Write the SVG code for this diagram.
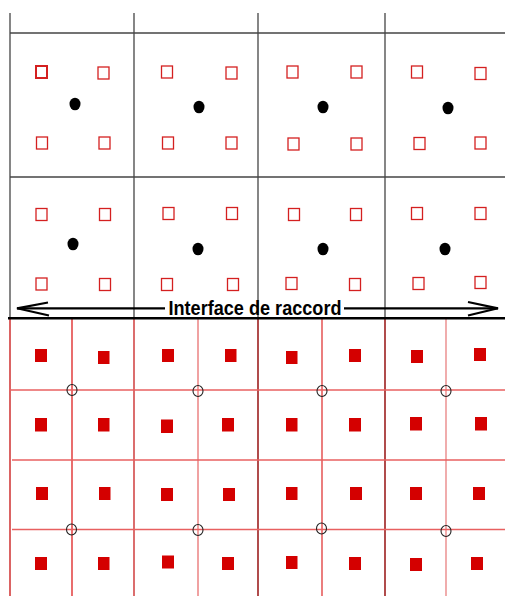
<svg xmlns="http://www.w3.org/2000/svg" width="505" height="596" viewBox="0 0 505 596">
<defs>
<style>
.g{stroke:#444;stroke-width:1.3;fill:none}
.os{fill:none;stroke:#d42020;stroke-width:1.3}
.fs{fill:#d40000;stroke:none}
.dot{fill:#000}
.rl{stroke-width:1.3;fill:none}
.circ{fill:none;stroke:#222;stroke-width:1.1}
.lbl{font-family:"Liberation Sans",Arial,sans-serif;font-weight:bold;font-size:21px;fill:#000}
.arr{stroke:#000;stroke-width:2.2;fill:none}
</style>
</defs>
<rect width="505" height="596" fill="#fff"/>
<g id="top-grid">
<line class="g" x1="10" y1="13" x2="10" y2="318"/>
<line class="g" x1="134" y1="13" x2="134" y2="318"/>
<line class="g" x1="258" y1="13" x2="258" y2="318"/>
<line class="g" x1="385" y1="13" x2="385" y2="318"/>
<line class="g" x1="10" y1="33" x2="505" y2="33"/>
<line class="g" x1="10" y1="177" x2="505" y2="177"/>
</g>
<g id="top-cells">
<g id="cell-t1">
<rect class="os" x="36" y="66" width="11" height="12" style="stroke-width:2"/><rect class="os" x="98" y="67" width="11" height="12"/>
<rect class="os" x="36.5" y="137" width="11" height="12"/><rect class="os" x="99" y="137" width="11" height="12"/>
<ellipse class="dot" cx="75" cy="104" rx="5.5" ry="6.3"/>
</g>
<g id="cell-t2">
<rect class="os" x="161.5" y="66" width="11" height="12"/><rect class="os" x="226" y="67" width="11" height="12"/>
<rect class="os" x="162.5" y="137" width="11" height="12"/><rect class="os" x="226" y="137" width="11" height="12"/>
<ellipse class="dot" cx="199" cy="107" rx="5.5" ry="6.3"/>
</g>
<g id="cell-t3">
<rect class="os" x="287" y="66" width="11" height="12"/><rect class="os" x="351" y="66" width="11" height="12"/>
<rect class="os" x="288" y="138" width="11" height="12"/><rect class="os" x="351" y="138" width="11" height="12"/>
<ellipse class="dot" cx="323" cy="107" rx="5.5" ry="6.3"/>
</g>
<g id="cell-t4">
<rect class="os" x="411.5" y="66" width="11" height="12"/><rect class="os" x="475" y="67.5" width="11" height="12"/>
<rect class="os" x="414" y="137.5" width="11" height="12"/><rect class="os" x="475" y="137" width="11" height="12"/>
<ellipse class="dot" cx="448" cy="108" rx="5.5" ry="6.3"/>
</g>
<g id="cell-t5">
<rect class="os" x="36" y="208.5" width="11" height="12"/><rect class="os" x="99.5" y="208.5" width="11" height="12"/>
<rect class="os" x="36" y="278" width="11" height="12"/><rect class="os" x="99.5" y="278.5" width="11" height="12"/>
<ellipse class="dot" cx="73" cy="244" rx="5.5" ry="6.3"/>
</g>
<g id="cell-t6">
<rect class="os" x="163" y="207.5" width="11" height="12"/><rect class="os" x="226.5" y="207.5" width="11" height="12"/>
<rect class="os" x="161.5" y="278.5" width="11" height="12"/><rect class="os" x="227.5" y="278.5" width="11" height="12"/>
<ellipse class="dot" cx="198" cy="249" rx="5.5" ry="6.3"/>
</g>
<g id="cell-t7">
<rect class="os" x="288.5" y="208.5" width="11" height="12"/><rect class="os" x="350.5" y="208.5" width="11" height="12"/>
<rect class="os" x="286" y="277.5" width="11" height="12"/><rect class="os" x="349.5" y="278.5" width="11" height="12"/>
<ellipse class="dot" cx="323" cy="249" rx="5.5" ry="6.3"/>
</g>
<g id="cell-t8">
<rect class="os" x="411.5" y="207.5" width="11" height="12"/><rect class="os" x="475" y="207.5" width="11" height="12"/>
<rect class="os" x="413" y="277.5" width="11" height="12"/><rect class="os" x="475" y="276.5" width="11" height="12"/>
<ellipse class="dot" cx="445" cy="249" rx="5.5" ry="6.3"/>
</g>
</g>
<g id="bottom-grid">
<line class="rl" x1="10" y1="318" x2="10" y2="596" stroke="#c81010"/>
<line class="rl" x1="72" y1="318" x2="72" y2="596" stroke="#dd2020"/>
<line class="rl" x1="134" y1="318" x2="134" y2="596" stroke="#c82020"/>
<line class="rl" x1="198" y1="318" x2="198" y2="596" stroke="#e87070"/>
<line class="rl" x1="258" y1="318" x2="258" y2="596" stroke="#a83838" style="stroke-width:1.8"/>
<line class="rl" x1="322" y1="318" x2="322" y2="596" stroke="#e03838"/>
<line class="rl" x1="385" y1="318" x2="385" y2="596" stroke="#a83838" style="stroke-width:1.8"/>
<line class="rl" x1="446" y1="318" x2="446" y2="596" stroke="#e88080"/>
<line class="rl" x1="9" y1="390" x2="505" y2="390" stroke="#e86060" style="stroke-width:1.6"/>
<line class="rl" x1="12" y1="460" x2="505" y2="460" stroke="#e86060" style="stroke-width:1.6"/>
<line class="rl" x1="12" y1="529.5" x2="505" y2="529.5" stroke="#e86060" style="stroke-width:1.6"/>
</g>
<g id="bottom-circles">
<ellipse class="circ" cx="72" cy="390" rx="5" ry="5.5"/>
<ellipse class="circ" cx="198" cy="391" rx="5" ry="5.5"/>
<ellipse class="circ" cx="322" cy="391" rx="5" ry="5.5"/>
<ellipse class="circ" cx="446" cy="391" rx="5" ry="5.5"/>
<ellipse class="circ" cx="71.5" cy="529.5" rx="5" ry="5.5"/>
<ellipse class="circ" cx="198" cy="530" rx="5" ry="5.5"/>
<ellipse class="circ" cx="321.5" cy="528.5" rx="5" ry="5.5"/>
<ellipse class="circ" cx="446" cy="531" rx="5" ry="5.5"/>
</g>
<g id="bottom-squares">
<rect class="fs" x="35" y="349" width="12" height="13"/><rect class="fs" x="98" y="351" width="11.5" height="13"/>
<rect class="fs" x="162" y="349" width="12" height="13"/><rect class="fs" x="225" y="349" width="11.5" height="13"/>
<rect class="fs" x="286" y="351" width="11.5" height="13"/><rect class="fs" x="349" y="349" width="12" height="13"/>
<rect class="fs" x="411" y="350" width="12" height="13"/><rect class="fs" x="474" y="348" width="12" height="13"/>
<rect class="fs" x="35" y="418" width="12" height="13.5"/><rect class="fs" x="98" y="418" width="11.5" height="13.5"/>
<rect class="fs" x="161" y="419.5" width="12" height="13.5"/><rect class="fs" x="222" y="418" width="12" height="13.5"/>
<rect class="fs" x="286" y="418" width="11.5" height="13.5"/><rect class="fs" x="349" y="418" width="12" height="13.5"/>
<rect class="fs" x="410" y="417" width="12" height="13.5"/><rect class="fs" x="475" y="417" width="12" height="13.5"/>
<rect class="fs" x="36" y="487" width="12" height="13" stroke="#400" stroke-width="0.8"/><rect class="fs" x="99" y="487" width="11.5" height="13"/>
<rect class="fs" x="161" y="488" width="12" height="13"/><rect class="fs" x="223" y="488" width="12" height="13"/>
<rect class="fs" x="286" y="487" width="11.5" height="13"/><rect class="fs" x="350" y="487" width="12" height="13"/>
<rect class="fs" x="410" y="487" width="12" height="13"/><rect class="fs" x="473" y="487" width="12" height="13"/>
<rect class="fs" x="35" y="557" width="12" height="13" stroke="#400" stroke-width="0.8"/><rect class="fs" x="98" y="557" width="11.5" height="13"/>
<rect class="fs" x="162" y="555.5" width="12" height="13"/><rect class="fs" x="222" y="557" width="12" height="13"/>
<rect class="fs" x="286" y="556" width="11.5" height="13"/><rect class="fs" x="349" y="557" width="12" height="13"/>
<rect class="fs" x="410" y="558" width="12" height="13"/><rect class="fs" x="471" y="557" width="12" height="13"/>
</g>
<g id="interface">
<line x1="8" y1="318.3" x2="505" y2="318.3" stroke="#000" stroke-width="2.5"/>
</g>
<g id="connectors">
<line class="arr" x1="17" y1="308.3" x2="165" y2="308.3"/>
<line class="arr" x1="344" y1="308.3" x2="498" y2="308.3"/>
<polyline class="arr" points="48,302.5 17,308.3 49,315.5"/>
<polyline class="arr" points="468,302 498,308.3 468,315.5"/>
</g>
<g id="label">
<text class="lbl" x="168.5" y="315" textLength="173" lengthAdjust="spacingAndGlyphs">Interface de raccord</text>
</g>
</svg>
